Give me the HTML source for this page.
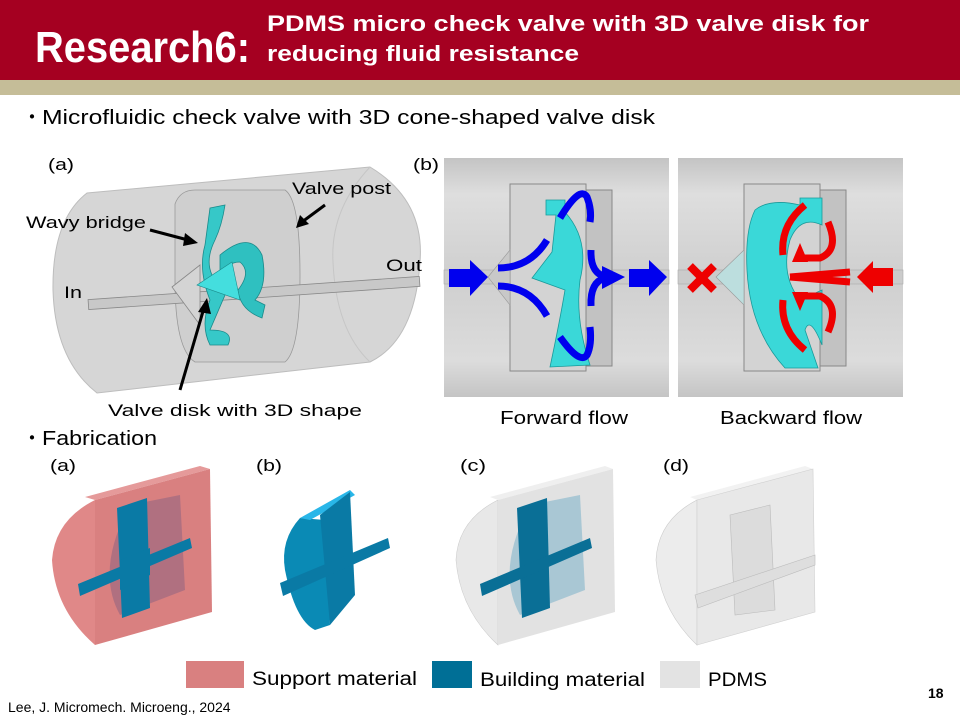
<!DOCTYPE html>
<html><head><meta charset="utf-8"><style>
html,body{margin:0;padding:0;background:#fff}
svg{display:block}
text{font-family:"Liberation Sans",sans-serif}
</style></head><body>
<svg width="960" height="720" viewBox="0 0 960 720" xmlns="http://www.w3.org/2000/svg">
<defs>
<linearGradient id="tube" x1="0" y1="0" x2="0" y2="1">
<stop offset="0" stop-color="#c4c4c4"/><stop offset="0.15" stop-color="#dedede"/><stop offset="0.5" stop-color="#cfcfcf"/><stop offset="0.85" stop-color="#dcdcdc"/><stop offset="1" stop-color="#c4c4c4"/>
</linearGradient>
</defs>
<rect x="0" y="0" width="960" height="80" fill="#A50021"/>
<rect x="0" y="80" width="960" height="15" fill="#C5BD98"/>
<text x="35" y="62" fill="#fff" font-size="44" font-weight="bold" textLength="215" lengthAdjust="spacingAndGlyphs">Research6:</text>
<text x="267" y="31" fill="#fff" font-size="22" font-weight="bold" textLength="602" lengthAdjust="spacingAndGlyphs">PDMS micro check valve with 3D valve disk for</text>
<text x="267" y="61" fill="#fff" font-size="22" font-weight="bold" textLength="312" lengthAdjust="spacingAndGlyphs">reducing fluid resistance</text>

<text x="22" y="124" font-size="20">・</text>
<text x="42" y="124" font-size="20" textLength="613" lengthAdjust="spacingAndGlyphs">Microfluidic check valve with 3D cone-shaped valve disk</text>

<text x="48" y="170" font-size="17" textLength="26" lengthAdjust="spacingAndGlyphs">(a)</text>
<path d="M87,193 L370,167 Q425,200 420,262 Q415,340 370,362 L97,393 Q55,360 53,290 Q52,220 87,193Z" fill="#d6d6d6" stroke="#bdbdbd"/>
<path d="M370,167 Q330,210 333,262 Q336,330 370,362" fill="none" stroke="#c6c6c6"/>
<path d="M175,204 Q180,190 195,190 L285,190 Q300,200 300,275 Q300,350 285,362 L195,362 Q175,350 175,280Z" fill="#cfcfcf" stroke="#999" stroke-width="0.8"/>
<rect x="88" y="288" width="332" height="10" fill="#c8c8c8" stroke="#888" stroke-width="0.8" transform="rotate(-4 254 293)"/>
<polygon points="172,287 200,265 200,325" fill="#d4d4d4" stroke="#888" stroke-width="0.8"/>
<path d="M210,208 L225,205 Q222,225 215,240 Q205,260 212,275 L225,295 L210,330 Q235,330 228,345 L210,345 Q200,325 210,300 Q198,270 205,245Z" fill="#36c8c8" stroke="#1a8a8a" stroke-width="0.8"/>
<path d="M220,255 Q250,230 262,255 Q268,285 255,300 L265,305 L262,318 Q240,310 238,290 Q252,272 240,262 Q225,262 220,280Z" fill="#2fc0c0" stroke="#1a8a8a" stroke-width="0.8"/>
<polygon points="197,285 232,262 240,300" fill="#44dede" stroke="#1a8a8a" stroke-width="0.6"/>
<text x="292" y="194" font-size="17" textLength="99" lengthAdjust="spacingAndGlyphs">Valve post</text>
<line x1="325" y1="205" x2="302" y2="222" stroke="#000" stroke-width="3"/><polygon points="296,228 300,215 309,224" fill="#000"/>
<text x="26" y="228" font-size="17" textLength="120" lengthAdjust="spacingAndGlyphs">Wavy bridge</text>
<line x1="150" y1="230" x2="188" y2="240" stroke="#000" stroke-width="3"/><polygon points="198,243 185,233 183,246" fill="#000"/>
<text x="386" y="271" font-size="17" textLength="36" lengthAdjust="spacingAndGlyphs">Out</text>
<text x="64" y="298" font-size="17" textLength="18" lengthAdjust="spacingAndGlyphs">In</text>
<line x1="180" y1="390" x2="204" y2="308" stroke="#000" stroke-width="3"/><polygon points="207,298 198,312 211,314" fill="#000"/>
<text x="108" y="416" font-size="17" textLength="254" lengthAdjust="spacingAndGlyphs">Valve disk with 3D shape</text>

<text x="413" y="170" font-size="17" textLength="26" lengthAdjust="spacingAndGlyphs">(b)</text>
<rect x="444" y="158" width="225" height="239" fill="url(#tube)"/>
<rect x="678" y="158" width="225" height="239" fill="url(#tube)"/>
<rect x="444" y="270" width="225" height="14" fill="#cbcbcb" stroke="#aaa" stroke-width="0.6"/>
<rect x="678" y="270" width="225" height="14" fill="#cbcbcb" stroke="#aaa" stroke-width="0.6"/>
<rect x="510" y="184" width="76" height="187" fill="#d3d3d3" stroke="#888"/>
<rect x="586" y="190" width="26" height="176" fill="#c2c2c2" stroke="#888"/>
<rect x="744" y="184" width="76" height="187" fill="#d3d3d3" stroke="#888"/>
<rect x="820" y="190" width="26" height="176" fill="#c2c2c2" stroke="#888"/>
<polygon points="488,277 510,250 510,305" fill="#c8c8c8" stroke="#999" stroke-width="0.6"/>
<polygon points="716,277 744,250 744,305" fill="#bcdede" stroke="#999" stroke-width="0.6"/>
<path d="M546,200 L565,200 L565,212 Q590,240 580,280 Q575,320 590,365 L550,367 Q560,320 565,290 L532,278 L552,252 L556,215 L546,215Z" fill="#3ad8d8" stroke="#1a9a9a" stroke-width="0.8"/>
<path d="M755,210 Q770,198 800,205 L800,198 L822,198 L822,225 Q800,215 790,240 Q780,275 800,300 L822,290 L822,345 Q810,315 805,330 L818,368 L785,368 Q750,330 747,270 Q745,230 755,210Z" fill="#3ad8d8" stroke="#1a9a9a" stroke-width="0.8"/>
<g fill="#0000ee">
<polygon points="449,269 470,269 470,260 488,277 470,296 470,287 449,287"/>
<polygon points="629,269 649,269 649,260 667,277 649,296 649,287 629,287"/>
</g>
<g fill="none" stroke="#0000ee" stroke-width="7">
<path d="M498,268 Q530,268 547,240"/><path d="M498,286 Q530,286 547,316"/>
<path d="M560,218 Q580,185 587,197 Q592,210 590,222"/>
<path d="M560,337 Q580,365 587,355 Q592,345 590,327"/>
<path d="M591,250 Q590,275 608,277"/><path d="M591,306 Q590,282 605,278"/>
</g>
<polygon points="602,266 625,277 602,289" fill="#0000ee"/>
<g stroke="#ee0000" stroke-width="8"><line x1="690" y1="266" x2="714" y2="290"/><line x1="714" y1="266" x2="690" y2="290"/></g>
<polygon points="893,268 873,268 873,261 857,277 873,293 873,286 893,286" fill="#ee0000"/>
<g fill="none" stroke="#ee0000" stroke-width="7">
<path d="M805,205 Q780,225 783,255"/><path d="M805,350 Q780,330 783,300"/>
<path d="M828,222 Q840,250 820,258 L800,258"/><path d="M828,332 Q840,305 820,296 L800,296"/>
<path d="M790,277 L850,272"/><path d="M790,277 L850,282"/>
</g>
<polygon points="800,243 792,262 808,262" fill="#ee0000"/>
<polygon points="800,311 792,292 808,292" fill="#ee0000"/>
<text x="500" y="424" font-size="18" textLength="128" lengthAdjust="spacingAndGlyphs">Forward flow</text>
<text x="720" y="424" font-size="18" textLength="142" lengthAdjust="spacingAndGlyphs">Backward flow</text>

<text x="22" y="445" font-size="20">・</text>
<text x="42" y="445" font-size="20" textLength="115" lengthAdjust="spacingAndGlyphs">Fabrication</text>
<text x="50" y="471" font-size="17" textLength="26" lengthAdjust="spacingAndGlyphs">(a)</text>
<text x="256" y="471" font-size="17" textLength="26" lengthAdjust="spacingAndGlyphs">(b)</text>
<text x="460" y="471" font-size="17" textLength="26" lengthAdjust="spacingAndGlyphs">(c)</text>
<text x="663" y="471" font-size="17" textLength="26" lengthAdjust="spacingAndGlyphs">(d)</text>

<path d="M95,500 Q55,520 52,560 Q55,610 95,645Z" fill="#e08888"/>
<polygon points="85,497 200,466 210,469 95,500" fill="#e59a9a"/>
<polygon points="95,500 210,469 212,612 95,645" fill="#d98080"/>
<path d="M130,505 L180,495 L185,590 L120,615 Q95,570 130,505Z" fill="#b07080"/>
<g fill="#0a7aa5"><polygon points="117,508 147,498 150,608 122,618"/><polygon points="78,584 190,538 192,548 80,596"/><polygon points="120,560 150,548 150,575 120,590"/></g>
<path d="M300,518 Q280,540 285,570 Q295,620 315,630 L330,625 L325,520Z" fill="#0a8ab5"/>
<polygon points="300,518 350,490 355,495 310,520" fill="#29b6e8"/>
<polygon points="320,515 350,492 355,595 330,625" fill="#0a7aa5"/>
<polygon points="280,583 388,538 390,548 283,596" fill="#0a7aa5"/>
<path d="M498,500 Q458,520 456,560 Q460,610 498,645Z" fill="#e8e8e8" stroke="#ccc" stroke-width="0.6"/>
<polygon points="490,497 605,466 613,469 498,500" fill="#efefef"/>
<polygon points="498,500 613,469 615,612 498,645" fill="#e2e2e2"/>
<path d="M530,505 L580,495 L585,590 L520,615 Q495,570 530,505Z" fill="#a9c7d4"/>
<g fill="#0a6f96"><polygon points="517,508 547,498 550,608 522,618"/><polygon points="480,584 590,538 592,548 482,596"/></g>
<path d="M697,500 Q658,520 656,560 Q660,610 697,645Z" fill="#ececec" stroke="#ccc" stroke-width="0.6"/>
<polygon points="690,497 805,466 813,469 697,500" fill="#f2f2f2"/>
<polygon points="697,500 813,469 815,612 697,645" fill="#e8e8e8" stroke="#d0d0d0" stroke-width="0.6"/>
<polygon points="730,515 770,505 775,610 735,615" fill="#dcdcdc" stroke="#bbb" stroke-width="0.6"/>
<polygon points="695,595 815,555 815,565 698,608" fill="#dedede" stroke="#bbb" stroke-width="0.6"/>

<rect x="186" y="661" width="58" height="27" fill="#D98080"/>
<text x="252" y="685" font-size="19" textLength="165" lengthAdjust="spacingAndGlyphs">Support material</text>
<rect x="432" y="661" width="40" height="27" fill="#006F96"/>
<text x="480" y="686" font-size="19" textLength="165" lengthAdjust="spacingAndGlyphs">Building material</text>
<rect x="660" y="661" width="40" height="27" fill="#E3E3E3"/>
<text x="708" y="686" font-size="19" textLength="59" lengthAdjust="spacingAndGlyphs">PDMS</text>
<text x="8" y="712" font-size="14">Lee, J. Micromech. Microeng., 2024</text>
<text x="928" y="698" font-size="14" font-weight="bold">18</text>
</svg>
</body></html>
